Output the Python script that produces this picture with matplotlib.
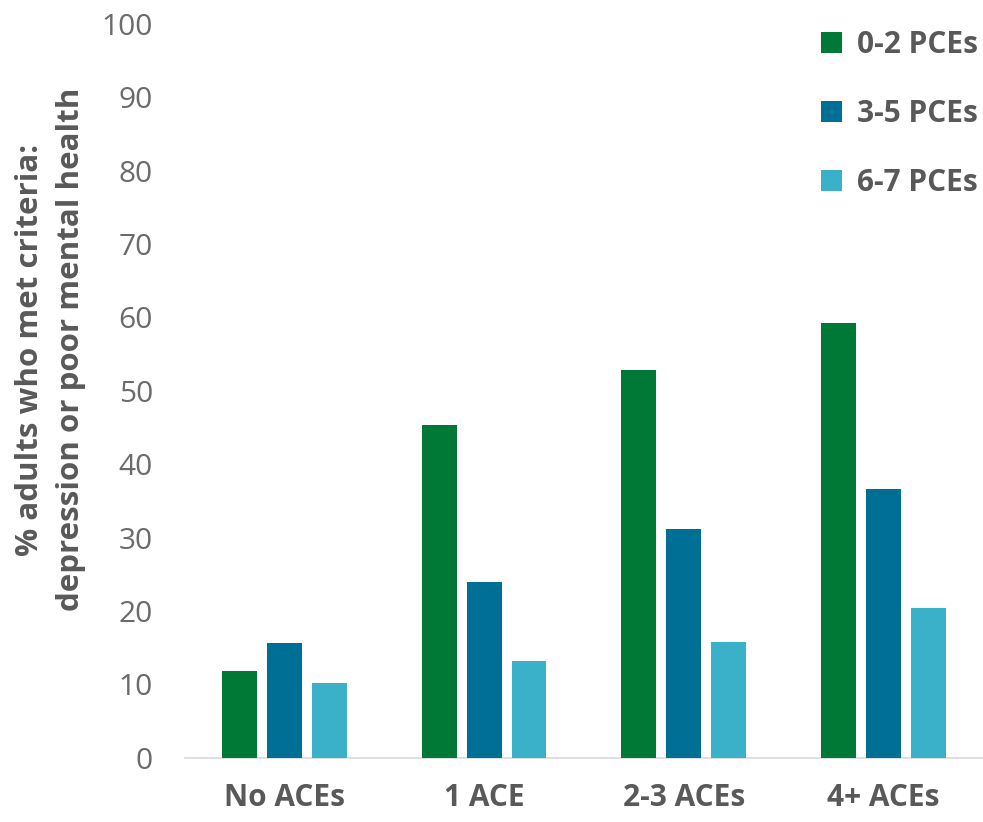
import matplotlib
matplotlib.use("Agg")
import matplotlib.pyplot as plt
import numpy as np

categories = ["No ACEs", "1 ACE", "2-3 ACEs", "4+ ACEs"]
series_names = ["0-2 PCEs", "3-5 PCEs", "6-7 PCEs"]
pce_0_2 = [11.9, 45.4, 52.9, 59.3]
pce_3_5 = [15.6, 24.0, 31.2, 36.6]
pce_6_7 = [10.2, 13.2, 15.8, 20.4]
colors = ["#007836", "#006f95", "#3bb0c9"]
y_ticks = [0, 10, 20, 30, 40, 50, 60, 70, 80, 90, 100]

plt.rcParams['font.family'] = ['Open Sans', 'DejaVu Sans']
gray = "#595959"
tick_gray = "#6b6b6b"

fig = plt.figure(figsize=(9.83, 8.22), dpi=100)
ax = fig.add_axes([0.188, 0.078, 0.812, 0.893])

x = np.arange(len(categories))
pitch = 0.225
width = 0.175
for i, (vals, name, c) in enumerate(zip([pce_0_2, pce_3_5, pce_6_7], series_names, colors)):
    ax.bar(x + (i - 1) * pitch, vals, width=width, color=c, label=name, zorder=3)

ax.set_xlim(-0.5, 3.5)
ax.set_ylim(0, 100)
ax.set_yticks(y_ticks)
ax.set_yticklabels([str(t) for t in y_ticks], fontsize=21.5, color=tick_gray)
ax.set_xticks(x)
ax.set_xticklabels(categories, fontsize=21.5, fontweight='bold', color=gray)
ax.tick_params(axis='y', length=0, pad=23)
ax.tick_params(axis='x', length=0, pad=18)
for s in ['top', 'right', 'left']:
    ax.spines[s].set_visible(False)
ax.spines['bottom'].set_color('#d9d9d9')
ax.spines['bottom'].set_linewidth(1.2)

ax.set_ylabel("% adults who met criteria:\ndepression or poor mental health",
              fontsize=22.5, fontweight='bold', color=gray, linespacing=1.45)
ax.yaxis.set_label_coords(-0.124, 0.556)

leg = ax.legend(loc='upper right', bbox_to_anchor=(1.027, 1.028), frameon=False,
                handlelength=0.7, handleheight=0.7, handletextpad=0.5,
                labelspacing=1.3, prop={'size': 21.5, 'weight': 'bold'})
for t in leg.get_texts():
    t.set_color(gray)

fig.savefig("out.png", dpi=100)
